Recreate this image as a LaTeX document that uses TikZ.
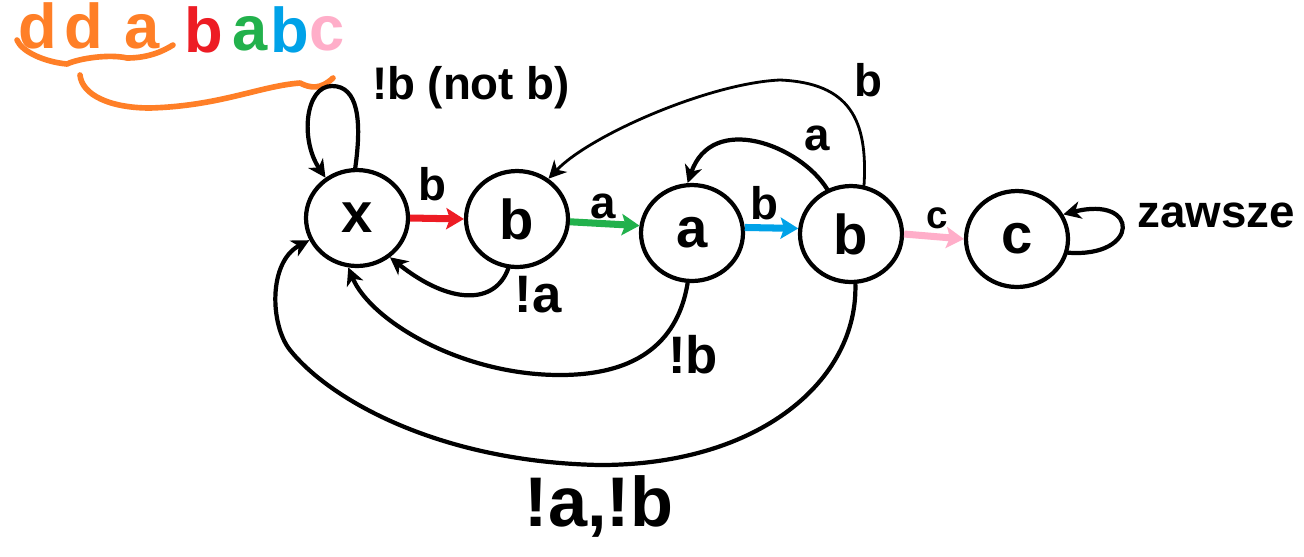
\documentclass[tikz,border=0pt]{standalone}
\usepackage{fontspec}
\setmainfont{Liberation Sans}
\usetikzlibrary{arrows.meta,shapes.geometric}
\definecolor{pred}{RGB}{237,28,36}
\definecolor{pgreen}{RGB}{34,177,76}
\definecolor{pblue}{RGB}{0,162,232}
\definecolor{ppink}{RGB}{255,174,201}
\definecolor{porange}{RGB}{255,127,39}
\newcommand\fsz[1]{\fontsize{#1}{#1}\selectfont\bfseries}
\begin{document}
\begin{tikzpicture}[x=0.02cm,y=-0.02cm,
  state/.style={draw,ellipse,line width=2.4pt,minimum width=2.04cm,minimum height=1.92cm,inner sep=0pt,font=\fsz{32}},
  edge/.style={draw,line width=2.4pt,line cap=round,-{Stealth[length=10pt,width=10pt,inset=3pt]}},
  thinedge/.style={edge,line width=1.6pt},
  colarrow/.style={draw,line width=4pt,-{Stealth[length=10pt,width=12pt,inset=2pt]}},
  lbl/.style={inner sep=0pt,font=\fsz{26}},
  toplet/.style={inner sep=0pt,anchor=base,font=\fsz{36}},
  orangestroke/.style={draw=porange,line width=3.2pt,line cap=round,line join=round}]
\useasboundingbox[fill=white] (0,0) rectangle (1304,556);

% states
\node[state] (X)  at (357,218) {x};
\node[state] (B1) at (517,219) {b};
\node[state] (A)  at (692,233) {a};
\node[state] (B2) at (851,234) {b};
\node[state] (C)  at (1017,239) {c};

% top word
\node[toplet,text=porange] (t1) at (38,48) {d};
\node[toplet,text=porange] (t2) at (84,48) {d};
\node[toplet,text=porange] (t3) at (142,48) {a};
\node[toplet,text=pred]    (t4) at (204,52) {b};
\node[toplet,text=pgreen]  (t5) at (250,50) {a};
\node[toplet,text=pblue]   (t6) at (290,52) {b};
\node[toplet,text=ppink]   (t7) at (327,50) {c};
\path[orangestroke] (17,40) .. controls (22,52) and (45,62) .. (67,64)
  .. controls (80,58) and (110,54) .. (127,58) .. controls (150,58) and (165,50) .. (173,45);
\path[orangestroke] (80,75) .. controls (82,95) and (110,108) .. (150,108)
  .. controls (220,106) and (260,86) .. (300,83) .. controls (310,88) and (320,90) .. (333,78);

% loop on x
\draw[edge] (X.92) .. controls (362,120) and (358,86) .. (332,86)
  .. controls (305,86) and (300,140) .. (X.128);
\node[lbl] (lx) at (471,88) {!b (not b)};

% forward coloured arrows
\draw[colarrow,pred] (X.east) -- (B1.west);
\node[lbl] (l1) at (432,184) {b};
\draw[colarrow,pgreen] (B1.-3) -- (A.172);
\node[lbl] (l2) at (603,206) {a};
\draw[colarrow,pblue] (A.6) -- (B2.174);
\node[lbl] (l3) at (764,203) {b};
\draw[colarrow,ppink] (B2.east) -- (C.west);
\node[lbl,font=\fsz{22}] (l4) at (937,218) {c};

% loop on c
\draw[edge] (C.-15) .. controls (1140,258) and (1140,195) .. (C.28);
\node[lbl] (lc) at (1216,215) {zawsze};

% back edges
\draw[edge] (B1.-100) .. controls (495,305) and (450,305) .. (X.-50);
\node[lbl,font=\fsz{30}] (la1) at (538,295) {!a};

\draw[edge] (A.-95) .. controls (680,330) and (650,375) .. (560,375)
  .. controls (460,375) and (370,320) .. (X.-100);
\node[lbl,font=\fsz{30}] (lb1) at (693,355) {!b};

\draw[edge] (B2.-85) .. controls (858,380) and (760,465) .. (600,465)
  .. controls (440,462) and (330,400) .. (290,350)
  .. controls (270,325) and (268,262) .. (X.205);
\node[lbl,font=\fsz{40}] (lab) at (599,506) {!a,!b};

\draw[edge] (B2.118) .. controls (800,145) and (712,112) .. (A.95);
\node[lbl] (la2) at (817,138) {a};

\draw[thinedge] (B2.75) .. controls (868,120) and (850,83) .. (780,80)
  .. controls (710,83) and (590,135) .. (B1.52);
\node[lbl] (lb2) at (868,80) {b};
\end{tikzpicture}
\end{document}
